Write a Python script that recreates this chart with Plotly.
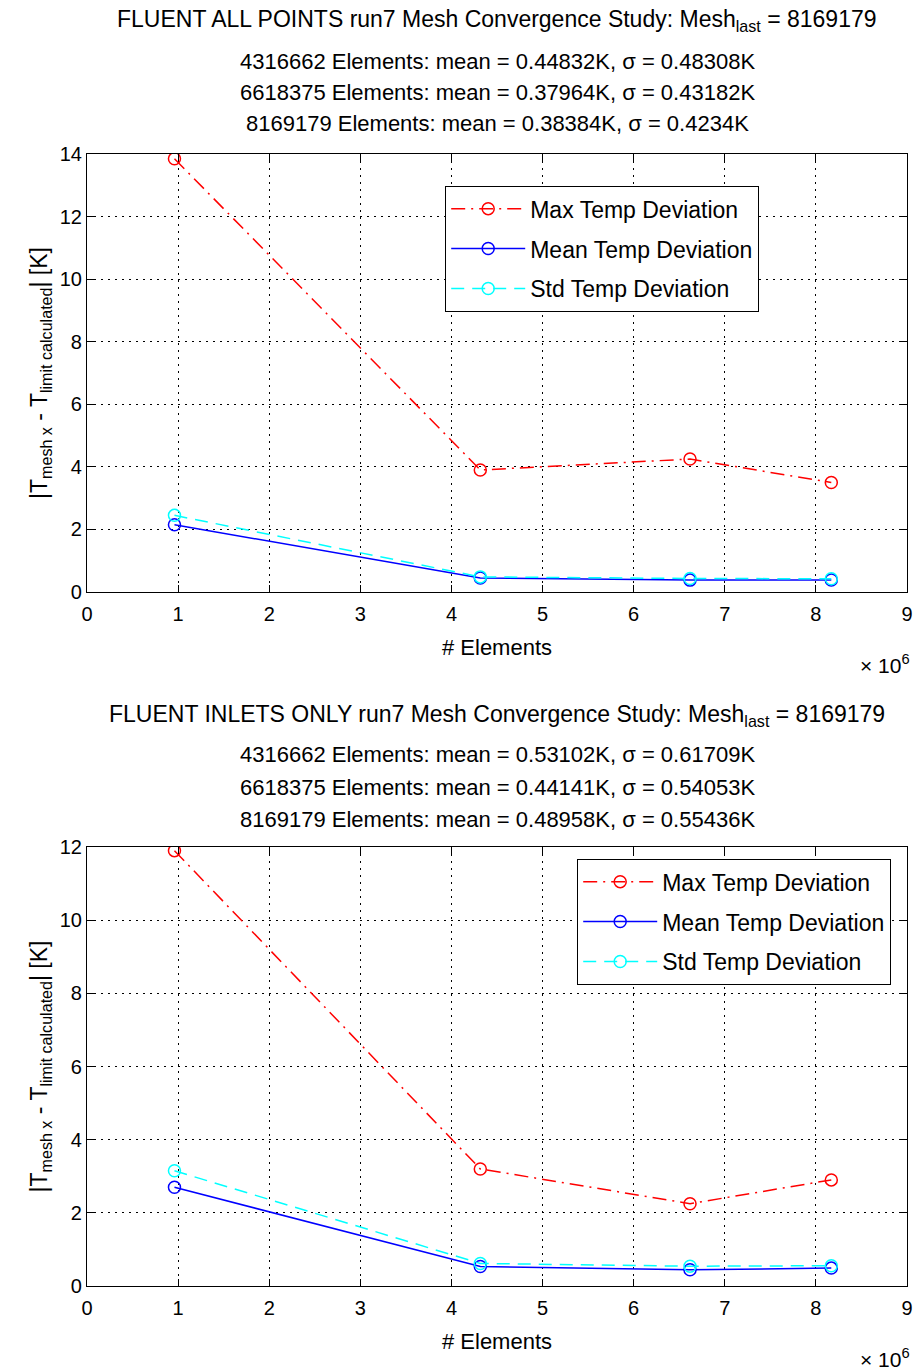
import plotly.graph_objects as go

# ---- data ----
elements = [960000, 4316662, 6618375, 8169179]

top_max = [13.85, 3.90, 4.25, 3.50]
top_mean = [2.15, 0.44832, 0.37964, 0.38384]
top_std = [2.45, 0.48308, 0.43182, 0.4234]

bot_max = [11.90, 3.20, 2.25, 2.90]
bot_mean = [2.70, 0.53102, 0.44141, 0.48958]
bot_std = [3.15, 0.61709, 0.54053, 0.55436]

series_names = ["Max Temp Deviation", "Mean Temp Deviation", "Std Temp Deviation"]
x_tickvals = [0, 1e6, 2e6, 3e6, 4e6, 5e6, 6e6, 7e6, 8e6, 9e6]
x_ticktext = ["0", "1", "2", "3", "4", "5", "6", "7", "8", "9"]
top_yticks = [0, 2, 4, 6, 8, 10, 12, 14]
bot_yticks = [0, 2, 4, 6, 8, 10, 12]

top_titles = [
    "FLUENT ALL POINTS run7 Mesh Convergence Study: Mesh<sub>last</sub> = 8169179",
    "4316662 Elements: mean = 0.44832K, σ = 0.48308K",
    "6618375 Elements: mean = 0.37964K, σ = 0.43182K",
    "8169179 Elements: mean = 0.38384K, σ = 0.4234K",
]
bot_titles = [
    "FLUENT INLETS ONLY run7 Mesh Convergence Study: Mesh<sub>last</sub> = 8169179",
    "4316662 Elements: mean = 0.53102K, σ = 0.61709K",
    "6618375 Elements: mean = 0.44141K, σ = 0.54053K",
    "8169179 Elements: mean = 0.48958K, σ = 0.55436K",
]

W, H = 915, 1372
FONT = "Liberation Sans, Arial, sans-serif"

def py(px):
    return 1 - px / H

fig = go.Figure()

styles = [
    dict(color="#ff0000", dash="14px,6px,2px,6px"),
    dict(color="#0000ff", dash="solid"),
    dict(color="#00ffff", dash="13px,8px"),
]

def add_set(vals, xa, ya, legend, tag):
    for i, (name, v, st) in enumerate(zip(series_names, vals, styles)):
        fig.add_trace(go.Scatter(
            x=elements, y=v, name=name, mode="lines+markers",
            line=dict(color=st["color"], dash=st["dash"], width=1.5),
            marker=dict(symbol="circle-open", size=12, color=st["color"], line=dict(width=1.5)),
            xaxis=xa, yaxis=ya, legend=legend, legendgroup=f"{tag}{i}",
        ))

add_set([top_max, top_mean, top_std], "x", "y", "legend", "t")
add_set([bot_max, bot_mean, bot_std], "x2", "y2", "legend2", "b")

xdom = [87 / W, 907 / W]
axis_common = dict(
    showline=True, linecolor="black", linewidth=1.2, mirror="allticks",
    ticks="inside", ticklen=7, tickcolor="black", tickwidth=1.2,
    showgrid=True, gridcolor="black", griddash="2px,5px", gridwidth=1,
    zeroline=False, automargin=False,
    tickfont=dict(family=FONT, size=20, color="black"),
)

ytitle = "|T<sub>mesh x</sub> - T<sub>limit calculated</sub>| [K]"
xtitle = dict(text="# Elements", font=dict(family=FONT, size=22, color="black"), standoff=15)
ytitle_d = dict(text=ytitle, font=dict(family=FONT, size=23, color="black"), standoff=5)

legend_common = dict(
    xanchor="left", yanchor="top", bordercolor="black", borderwidth=1.2, bgcolor="white",
    font=dict(family=FONT, size=23, color="black"), tracegroupgap=7,
    itemwidth=74,
)

fig.update_layout(
    width=W, height=H,
    margin=dict(l=0, r=0, t=0, b=0),
    paper_bgcolor="white", plot_bgcolor="white",
    showlegend=True,
    xaxis=dict(domain=xdom, anchor="y", range=[0, 9e6], tickvals=x_tickvals, ticktext=x_ticktext,
               title=xtitle, ticklabelstandoff=4, **axis_common),
    yaxis=dict(domain=[py(592), py(154)], anchor="x", range=[0, 14], tickvals=top_yticks,
               title=ytitle_d, **axis_common),
    xaxis2=dict(domain=xdom, anchor="y2", range=[0, 9e6], tickvals=x_tickvals, ticktext=x_ticktext,
                title=xtitle, ticklabelstandoff=4, **axis_common),
    yaxis2=dict(domain=[py(1286), py(847)], anchor="x2", range=[0, 12], tickvals=bot_yticks,
                title=ytitle_d, **axis_common),
    legend=dict(x=445 / W, y=py(186), **legend_common),
    legend2=dict(x=577 / W, y=py(859), **legend_common),
)

title_y_top = [21, 62, 92, 124]
title_y_bot = [715, 754, 787, 819]
title_sizes = [23, 22, 22, 22]
for txt, yy, fs in zip(top_titles, title_y_top, title_sizes):
    fig.add_annotation(text=txt, x=497 / W, y=py(yy), xref="paper", yref="paper",
                       xanchor="center", yanchor="middle",
                       showarrow=False, font=dict(family=FONT, size=fs, color="black"))
for txt, yy, fs in zip(bot_titles, title_y_bot, title_sizes):
    fig.add_annotation(text=txt, x=497 / W, y=py(yy), xref="paper", yref="paper",
                       xanchor="center", yanchor="middle",
                       showarrow=False, font=dict(family=FONT, size=fs, color="black"))

for yy in [664, 1358]:
    fig.add_annotation(text="× 10<sup>6</sup>", x=912 / W, y=py(yy), xref="paper", yref="paper",
                       xanchor="right", yanchor="middle", showarrow=False,
                       font=dict(family=FONT, size=21, color="black"))

fig.write_html("out.html")
